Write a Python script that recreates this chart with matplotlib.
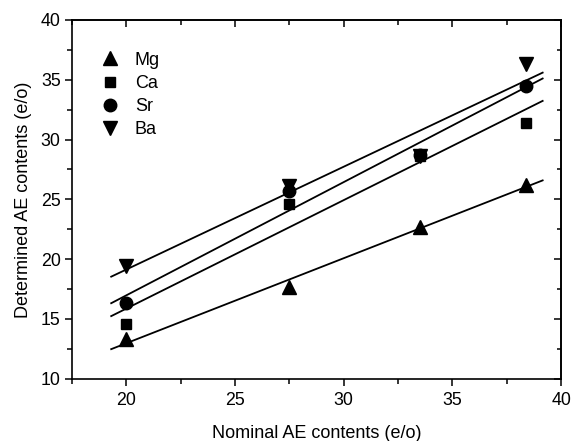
import matplotlib
matplotlib.use("Agg")
import matplotlib.pyplot as plt
from matplotlib.ticker import MultipleLocator
import numpy as np

plt.rcParams['font.family'] = ['Liberation Sans', 'DejaVu Sans']

nominal = [20.0, 27.5, 33.5, 38.4]
mg = [13.3, 17.7, 22.7, 26.2]
ca = [14.6, 24.6, 28.6, 31.4]
sr = [16.3, 25.7, 28.7, 34.5]
ba = [19.4, 26.1, 28.6, 36.3]

series = [("Mg", mg, "^"), ("Ca", ca, "s"), ("Sr", sr, "o"), ("Ba", ba, "v")]
sizes = {"^": 9.5, "s": 7.5, "o": 9, "v": 9.5}

fig = plt.figure(figsize=(5.72, 4.41), dpi=100)
ax = fig.add_axes([0.126, 0.141, 0.855, 0.814])

x_fit = np.array([19.3, 39.15])
for name, y, m in series:
    ax.plot(nominal, y, linestyle="none", marker=m, color="k",
            markersize=sizes[m], label=name)
    k, b = np.polyfit(nominal, y, 1)
    ax.plot(x_fit, k * x_fit + b, color="k", linewidth=1.3)

ax.set_xlim(17.5, 40)
ax.set_ylim(10, 40)
ax.xaxis.set_major_locator(MultipleLocator(5))
ax.xaxis.set_minor_locator(MultipleLocator(2.5))
ax.yaxis.set_major_locator(MultipleLocator(5))
ax.yaxis.set_minor_locator(MultipleLocator(2.5))

for s in ax.spines.values():
    s.set_linewidth(1.2)

ax.tick_params(which="both", direction="out", width=1.1, labelsize=12.8,
               top=False, right=False)
ax.tick_params(axis="x", which="both", pad=4.5)
ax.tick_params(which="major", length=4.7)
ax.tick_params(which="minor", length=3.3)

# mirrored ticks pointing inward on top and right
sec_x = ax.secondary_xaxis("top")
sec_x.xaxis.set_major_locator(MultipleLocator(5))
sec_x.xaxis.set_minor_locator(MultipleLocator(2.5))
sec_x.tick_params(which="both", direction="in", width=1.1, labeltop=False)
sec_x.tick_params(which="major", length=5)
sec_x.tick_params(which="minor", length=3.5)
sec_y = ax.secondary_yaxis("right")
sec_y.yaxis.set_major_locator(MultipleLocator(5))
sec_y.yaxis.set_minor_locator(MultipleLocator(2.5))
sec_y.tick_params(which="both", direction="in", width=1.1, labelright=False)
sec_y.tick_params(which="major", length=5)
sec_y.tick_params(which="minor", length=3)
sec_x.spines["top"].set_linewidth(1.2)
sec_y.spines["right"].set_linewidth(1.2)

ax.set_xlabel("Nominal AE contents (e/o)", fontsize=13, labelpad=12)
ax.set_ylabel("Determined AE contents (e/o)", fontsize=13, labelpad=6)

ax.legend(loc="upper left", frameon=False, fontsize=13, handlelength=1.0,
          handletextpad=0.85, labelspacing=0.34, borderpad=0,
          borderaxespad=0, bbox_to_anchor=(0.06, 0.911))

fig.savefig("out.png", dpi=100)
